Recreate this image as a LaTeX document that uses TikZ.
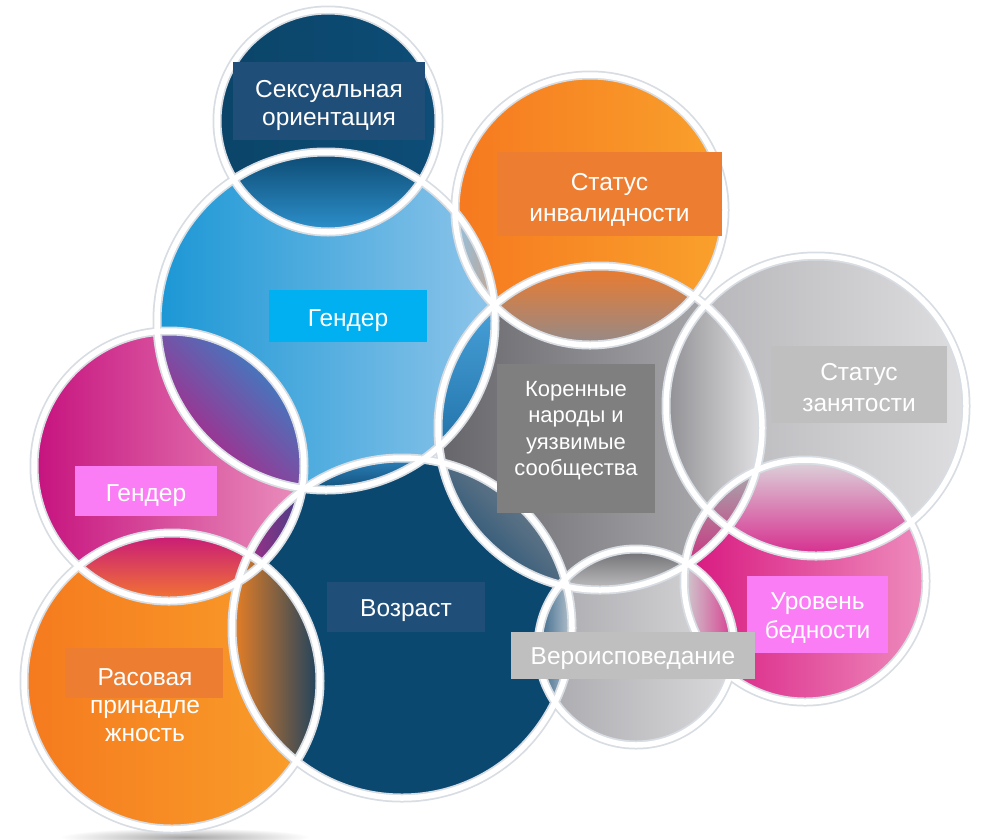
\documentclass[tikz,border=0pt]{standalone}
\usepackage{fontspec}
\setmainfont{Liberation Sans}
\definecolor{boxnavy}{HTML}{1F4E79}
\definecolor{boxorange}{HTML}{ED7D31}
\definecolor{boxblue}{HTML}{00B0F0}
\definecolor{boxgray}{HTML}{7F7F7F}
\definecolor{boxlgray}{HTML}{BFBFBF}
\definecolor{boxpink}{HTML}{FA7DF5}
\definecolor{ringgray}{HTML}{D8DDE3}
\definecolor{sexleft}{HTML}{0B4468}
\definecolor{sexright}{HTML}{0D4D77}
\definecolor{agenavy}{HTML}{0B486F}
\newcommand\CircSex{(328,-121) circle[radius=111]}
\newcommand\CircBlue{(326,-321) circle[radius=169]}
\newcommand\CircOtop{(590,-210) circle[radius=135]}
\newcommand\CircKor{(600,-428) circle[radius=162]}
\newcommand\CircEmp{(816,-406) circle[radius=150]}
\newcommand\CircPinkL{(169,-466) circle[radius=135]}
\newcommand\CircAge{(402,-628) circle[radius=170]}
\newcommand\CircObot{(172,-681) circle[radius=148]}
\newcommand\CircPinkR{(805,-581) circle[radius=121]}
\newcommand\CircRel{(636,-647) circle[radius=98]}
\tikzset{
  ringout/.style={draw=ringgray, line width=9pt},
  ringin/.style={draw=white, line width=5.5pt},
  lbl/.style={text=white, align=center, inner sep=0pt, font=\fontsize{24.5}{29.5}\selectfont},
  boxnode/.style={inner sep=0pt, minimum width=#1},
}
\begin{document}
\begin{tikzpicture}[x=1pt,y=1pt]
\useasboundingbox (0,0) rectangle (984,-839);
\fill[white] (0,0) rectangle (984,-839);
% shadow
\shade[inner color=black!35, outer color=white] (185,-837) ellipse[x radius=125, y radius=9];
% base circles
\shade[left color=sexleft, right color=sexright] \CircSex;
\shade[left color={rgb,255:red,27;green,151;blue,213}, right color={rgb,255:red,142;green,197;blue,234}] \CircBlue;
\shade[left color={rgb,255:red,246;green,121;blue,31}, right color={rgb,255:red,249;green,161;blue,44}] \CircOtop;
\shade[left color={rgb,255:red,101;green,101;blue,106}, right color={rgb,255:red,181;green,181;blue,184}] \CircKor;
\shade[left color={rgb,255:red,178;green,178;blue,182}, right color={rgb,255:red,222;green,222;blue,224}] \CircEmp;
\shade[left color={rgb,255:red,198;green,18;blue,126}, right color={rgb,255:red,234;green,144;blue,189}] \CircPinkL;
\fill[agenavy] \CircAge;
\shade[left color={rgb,255:red,245;green,122;blue,30}, right color={rgb,255:red,249;green,160;blue,43}] \CircObot;
\shade[left color={rgb,255:red,216;green,23;blue,127}, right color={rgb,255:red,238;green,140;blue,189}] \CircPinkR;
\shade[left color={rgb,255:red,169;green,169;blue,173}, right color={rgb,255:red,218;green,218;blue,220}] \CircRel;
% lenses
\begin{scope}\clip \CircSex; \clip \CircBlue;
\shade[top color={rgb,255:red,12;green,72;blue,112}, bottom color={rgb,255:red,46;green,147;blue,207}] (214,-150) rectangle (440,-234);\end{scope}
\begin{scope}\clip \CircBlue; \clip \CircOtop;
\shade[left color={rgb,255:red,142;green,195;blue,232}, right color={rgb,255:red,201;green,163;blue,138}] (452,-222) rectangle (497,-335);\end{scope}
\begin{scope}\clip \CircOtop; \clip \CircKor;
\shade[top color={rgb,255:red,239;green,122;blue,42}, bottom color={rgb,255:red,142;green,139;blue,144}] (470,-264) rectangle (712,-350);\end{scope}
\begin{scope}\clip \CircBlue; \clip \CircKor;
\shade[top color={rgb,255:red,73;green,162;blue,218}, bottom color={rgb,255:red,29;green,111;blue,165}] (436,-300) rectangle (497,-462);\end{scope}
\begin{scope}\clip \CircKor; \clip \CircEmp;
\shade[left color={rgb,255:red,139;green,139;blue,143}, right color={rgb,255:red,228;green,228;blue,230}] (660,-290) rectangle (765,-565);\end{scope}
\begin{scope}\clip \CircBlue; \clip \CircPinkL;
\shade[top color={rgb,255:red,44;green,138;blue,203}, bottom color={rgb,255:red,195;green,22;blue,126}, shading angle=-45] (155,-330) rectangle (306,-490);\end{scope}
\begin{scope}\clip \CircBlue; \clip \CircAge;
\shade[top color={rgb,255:red,47;green,134;blue,194}, bottom color={rgb,255:red,15;green,75;blue,115}] (240,-455) rectangle (430,-493);\end{scope}
\begin{scope}\clip \CircPinkL; \clip \CircAge;
\shade[left color={rgb,255:red,194;green,42;blue,135}, right color={rgb,255:red,59;green,63;blue,134}] (228,-465) rectangle (306,-565);\end{scope}
\begin{scope}\clip \CircPinkL; \clip \CircObot;
\shade[top color={rgb,255:red,197;green,19;blue,126}, bottom color={rgb,255:red,245;green,122;blue,46}] (40,-530) rectangle (300,-603);\end{scope}
\begin{scope}\clip \CircObot; \clip \CircAge;
\shade[left color={rgb,255:red,243;green,130;blue,34}, right color={rgb,255:red,22;green,64;blue,95}] (228,-540) rectangle (322,-800);\end{scope}
\begin{scope}\clip \CircAge; \clip \CircKor;
\shade[top color={rgb,255:red,141;green,141;blue,146}, bottom color={rgb,255:red,22;green,75;blue,114}, shading angle=-45] (436,-440) rectangle (580,-600);\end{scope}
\begin{scope}\clip \CircKor; \clip \CircRel;
\shade[top color={rgb,255:red,106;green,106;blue,110}, bottom color={rgb,255:red,208;green,208;blue,210}] (545,-547) rectangle (715,-598);\end{scope}
\begin{scope}\clip \CircAge; \clip \CircRel;
\shade[left color={rgb,255:red,39;green,90;blue,128}, right color={rgb,255:red,197;green,205;blue,213}] (534,-580) rectangle (575,-710);\end{scope}
\begin{scope}\clip \CircEmp; \clip \CircPinkR;
\shade[top color={rgb,255:red,220;green,220;blue,222}, bottom color={rgb,255:red,214;green,36;blue,138}] (684,-456) rectangle (926,-560);\end{scope}
\begin{scope}\clip \CircKor; \clip \CircPinkR;
\shade[top color={rgb,255:red,168;green,168;blue,172}, bottom color={rgb,255:red,200;green,50;blue,127}] (683,-470) rectangle (765,-565);\end{scope}
\begin{scope}\clip \CircRel; \clip \CircPinkR;
\shade[left color={rgb,255:red,207;green,207;blue,209}, right color={rgb,255:red,215;green,55;blue,140}] (683,-555) rectangle (736,-740);\end{scope}
% rings
\foreach \c in {\CircSex,\CircBlue,\CircOtop,\CircKor,\CircEmp,\CircPinkL,\CircAge,\CircObot,\CircPinkR,\CircRel}{\draw[ringout] \c;}
\foreach \c in {\CircSex,\CircBlue,\CircOtop,\CircKor,\CircEmp,\CircPinkL,\CircAge,\CircObot,\CircPinkR,\CircRel}{\draw[ringin] \c;}
% label boxes
\node[boxnode=192pt, minimum height=78pt, fill=boxnavy] (sexbox) at (329,-101) {};
\node[boxnode=225pt, minimum height=84pt, fill=boxorange] (disbox) at (609.5,-194) {};
\node[boxnode=158pt, minimum height=52pt, fill=boxblue] (genbox) at (348,-316) {};
\node[boxnode=158pt, minimum height=149pt, fill=boxgray] (korbox) at (576,-438.5) {};
\node[boxnode=176pt, minimum height=77pt, fill=boxlgray] (empbox) at (859,-384.5) {};
\node[boxnode=142pt, minimum height=50pt, fill=boxpink] (gen2box) at (146,-491) {};
\node[boxnode=158pt, minimum height=50pt, fill=boxnavy] (agebox) at (406,-607) {};
\node[boxnode=158pt, minimum height=50pt, fill=boxorange] (racebox) at (144,-673) {};
\node[boxnode=141pt, minimum height=77pt, fill=boxpink] (povbox) at (817.5,-614.5) {};
\node[boxnode=244pt, minimum height=47pt, fill=boxlgray] (relbox) at (633,-655.5) {};
% label texts
\node[lbl, font=\fontsize{24.5}{28.5}\selectfont] (sextext) at (329,-105.5) {Сексуальная\\ориентация};
\node[lbl, font=\fontsize{24.5}{31}\selectfont] (distext) at (609.5,-199.5) {Статус\\инвалидности};
\node[lbl] (gentext) at (348,-320.5) {Гендер};
\node[lbl, font=\fontsize{22}{26.5}\selectfont] (kortext) at (576,-430.5) {Коренные\\народы и\\уязвимые\\сообщества};
\node[lbl, font=\fontsize{24.5}{31}\selectfont] (emptext) at (859,-387.5) {Статус\\занятости};
\node[lbl] (gen2text) at (146,-495.5) {Гендер};
\node[lbl] (agetext) at (406,-611) {Возраст};
\node[lbl, font=\fontsize{24.5}{28}\selectfont] (racetext) at (145,-705) {Расовая\\принадле\\жность};
\node[lbl, font=\fontsize{24.5}{29}\selectfont] (povtext) at (817.5,-618) {Уровень\\бедности};
\node[lbl] (reltext) at (633,-659) {Вероисповедание};
\end{tikzpicture}
\end{document}
